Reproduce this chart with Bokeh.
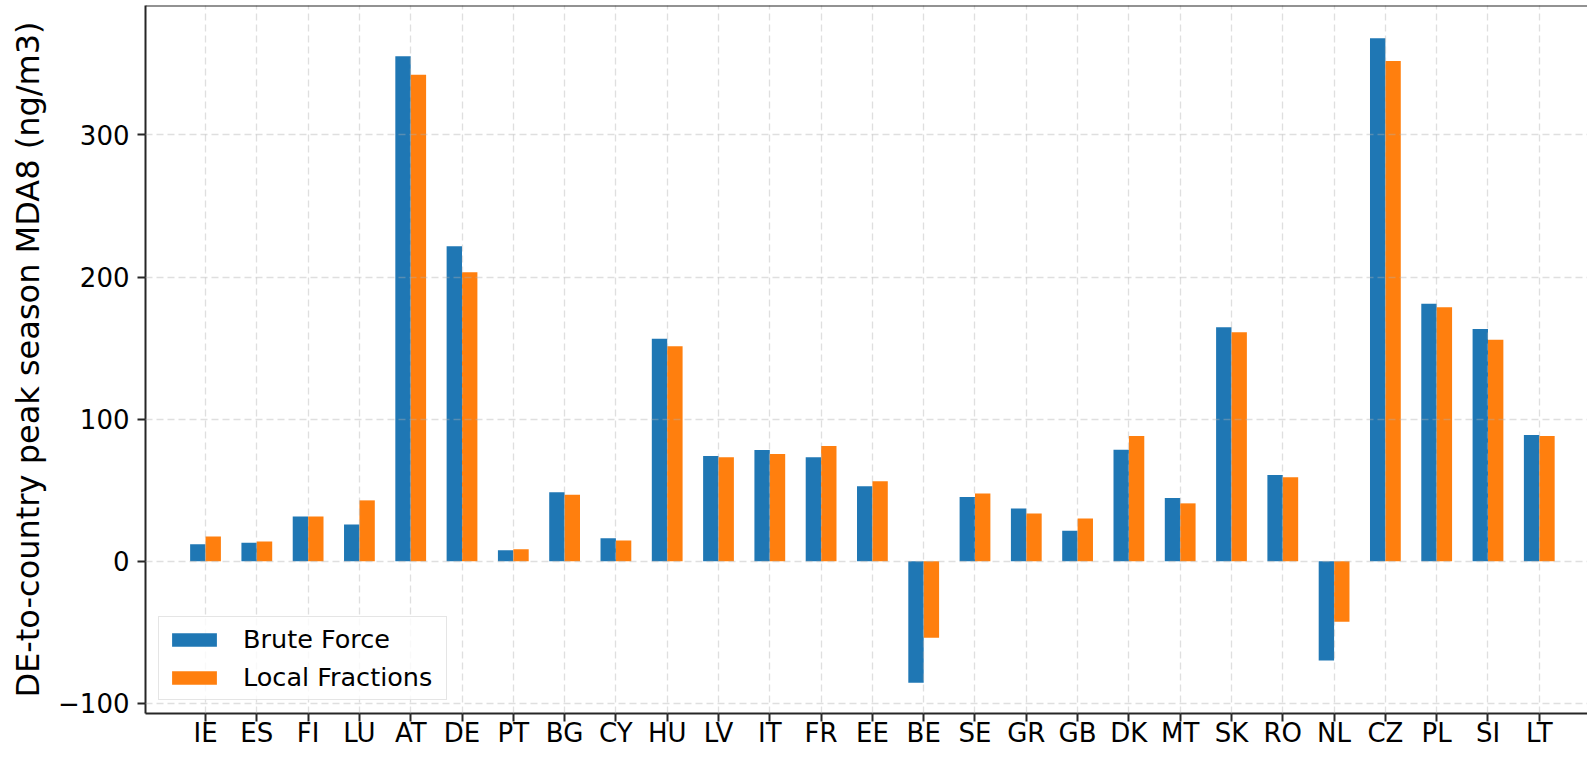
import numpy as np
from bokeh.plotting import figure
from bokeh.models import Range1d, FixedTicker, Span
from bokeh.embed import file_html
from bokeh.resources import INLINE

# Country codes along the x axis
countries = ["IE", "ES", "FI", "LU", "AT", "DE", "PT", "BG", "CY", "HU", "LV", "IT", "FR", "EE",
             "BE", "SE", "GR", "GB", "DK", "MT", "SK", "RO", "NL", "CZ", "PL", "SI", "LT"]

# DE-to-country peak season MDA8 (ng/m3)
brute_force = [11.9, 12.9, 31.5, 25.9, 355.4, 221.7, 7.7, 48.6, 16.1, 156.5, 74.0, 78.3, 73.1, 52.8,
               -85.6, 45.1, 37.1, 21.5, 78.5, 44.4, 164.7, 60.7, -69.9, 368.0, 181.1, 163.5, 88.8]
local_fractions = [17.3, 13.8, 31.5, 42.8, 342.3, 203.4, 8.4, 46.8, 14.5, 151.3, 73.1, 75.5, 81.1, 56.3,
                   -53.9, 47.7, 33.6, 30.1, 88.1, 40.7, 161.2, 59.1, -42.7, 352.1, 178.7, 155.8, 88.1]

y_ticks = [-100, 0, 100, 200, 300]

FONT = "DejaVu Sans"
BLUE = "#1f77b4"
ORANGE = "#ff7f0e"
bar_w = 0.3

x = np.arange(len(countries))

p = figure(width=1587, height=757, output_backend="svg", toolbar_location=None,
           title_location=None,
           x_range=Range1d(-1.17, 26.94), y_range=Range1d(-107.2, 391.1),
           min_border_left=145, min_border_right=0, min_border_top=5, min_border_bottom=44)
p.background_fill_color = "white"
p.border_fill_color = "white"
p.outline_line_color = None

# bars: blue left of the tick, orange right of it
p.vbar(x=x - bar_w / 2, top=brute_force, bottom=0, width=bar_w, color=BLUE, line_color=None,
       legend_label="Brute Force")
p.vbar(x=x + bar_w / 2, top=local_fractions, bottom=0, width=bar_w, color=ORANGE, line_color=None,
       legend_label="Local Fractions")

# top spine
p.add_layout(Span(location=p.y_range.end, dimension="width", line_color="#262626", line_width=2))

# axes
for ax in (p.xaxis[0], p.yaxis[0]):
    ax.axis_line_color = "#262626"
    ax.axis_line_width = 2
    ax.major_tick_line_color = "#262626"
    ax.major_tick_line_width = 2
    ax.major_tick_in = 0
    ax.major_tick_out = 8
    ax.minor_tick_line_color = None
    ax.major_label_text_font = FONT
    ax.major_label_text_font_size = "26px"
    ax.major_label_text_color = "black"

p.xaxis.axis_label = None
p.xaxis.ticker = FixedTicker(ticks=list(x))
p.xaxis.major_label_overrides = {int(i): c for i, c in zip(x, countries)}
p.xaxis.major_label_standoff = -4

p.yaxis.ticker = FixedTicker(ticks=y_ticks)
p.yaxis.major_label_overrides = {t: str(t).replace("-", "\u2212") for t in y_ticks}
p.yaxis.major_label_standoff = 8
p.yaxis.axis_label = "DE-to-country peak season MDA8 (ng/m3)"
p.yaxis.axis_label_text_font = FONT
p.yaxis.axis_label_text_font_size = "32px"
p.yaxis.axis_label_text_font_style = "normal"
p.yaxis.axis_label_text_color = "black"
p.yaxis.axis_label_standoff = 8

# dashed grid drawn above the bars, like matplotlib
for g in (p.xgrid[0], p.ygrid[0]):
    g.grid_line_color = "#b0b0b0"
    g.grid_line_alpha = 0.4
    g.grid_line_dash = "7 4"
    g.grid_line_width = 1.3
    g.level = "guide"

leg = p.legend[0]
leg.location = (13, 13)
leg.margin = 0
leg.padding = 7
leg.spacing = 8
leg.label_text_font = FONT
leg.label_text_font_size = "25.5px"
leg.label_text_color = "black"
leg.label_height = 30
leg.label_width = 196
leg.label_standoff = 21
leg.glyph_width = 56
leg.glyph_height = 17
leg.border_line_color = "#cccccc"
leg.border_line_width = 1.5
leg.background_fill_alpha = 0.8

open("out.html", "w").write(file_html(p, INLINE))
